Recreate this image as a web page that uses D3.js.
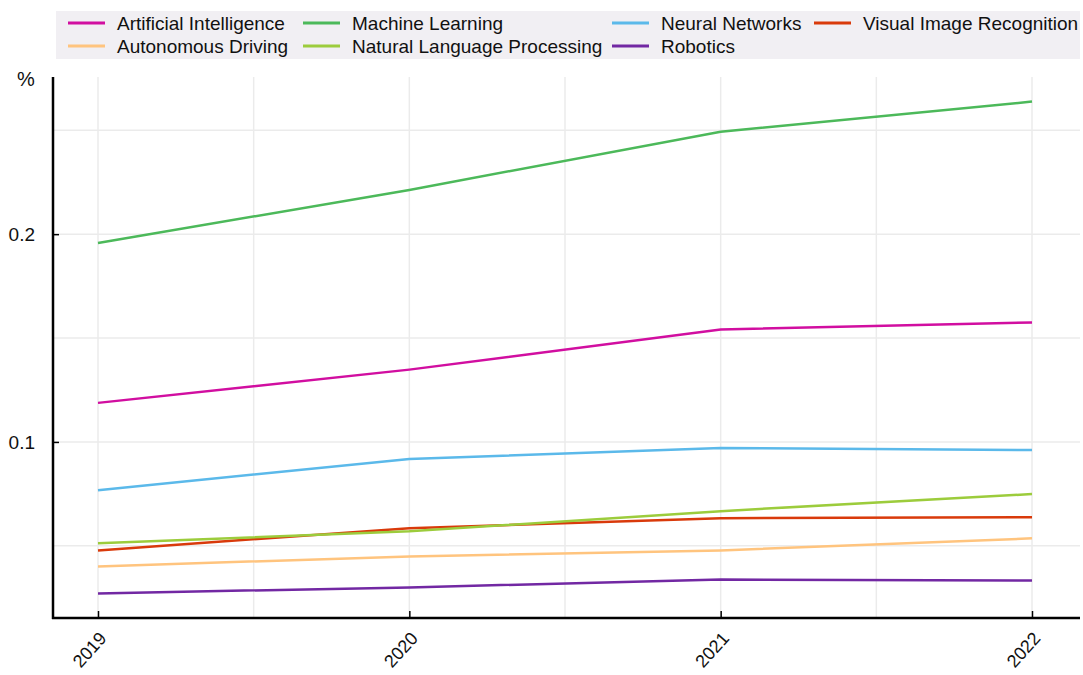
<!DOCTYPE html>
<html><head><meta charset="utf-8">
<script src="https://cdn.jsdelivr.net/npm/d3@7"></script>
<style>body{margin:0;background:#fff;}svg{display:block;font-family:"Liberation Sans",Arial,sans-serif;}</style>
</head><body><svg id="c" width="1083" height="675"></svg>
<script>
const years = ["2019","2020","2021","2022"];
const seriesNames = ["Artificial Intelligence","Machine Learning","Neural Networks","Visual Image Recognition","Autonomous Driving","Natural Language Processing","Robotics"];
const seriesColors = ["#d10ea0","#4cb95a","#5bb9ea","#d93a0b","#ffc47e","#9ccc3c","#7228a3"];
const aiValues = [0.1188,0.1348,0.1541,0.1575];
const mlValues = [0.1957,0.2213,0.2493,0.2638];
const nnValues = [0.0768,0.0918,0.0971,0.0961];
const virValues = [0.0478,0.0585,0.0633,0.0638];
const adValues = [0.0401,0.0449,0.0478,0.0536];
const nlpValues = [0.0512,0.0570,0.0667,0.0749];
const roboticsValues = [0.0271,0.0300,0.0338,0.0333];
const yTickValues = [0.1,0.2];
const yGridValues = [0.05,0.1,0.15,0.2,0.25];
const yLabel = "%";

const allValues = [aiValues,mlValues,nnValues,virValues,adValues,nlpValues,roboticsValues];
const series = seriesNames.map((n,i)=>({name:n,color:seriesColors[i],values:allValues[i]}));

const svg = d3.select("#c");
const pL=53, pR=1080, pT=77, pB=618;
const x = d3.scaleLinear().domain([0,3]).range([98,1032]);
const flat = allValues.flat();
const mn = d3.min(flat), mx = d3.max(flat), pad=(mx-mn)*0.05;
const y = d3.scaleLinear().domain([mn-pad,mx+pad]).range([pB,pT]);

// grid
const g = svg.append("g");
g.selectAll(".vg").data(d3.range(0,3.01,0.5)).join("line")
 .attr("x1",d=>x(d)).attr("x2",d=>x(d)).attr("y1",pT).attr("y2",pB)
 .attr("stroke","#ebebeb").attr("stroke-width",1.5);
g.selectAll(".hg").data(yGridValues).join("line")
 .attr("x1",pL).attr("x2",pR).attr("y1",d=>y(d)).attr("y2",d=>y(d))
 .attr("stroke","#ebebeb").attr("stroke-width",1.5);

// lines
const line = d3.line().x((d,i)=>x(i)).y(d=>y(d));
svg.append("g").selectAll("path").data(series).join("path")
 .attr("d",d=>line(d.values)).attr("fill","none")
 .attr("stroke",d=>d.color).attr("stroke-width",2.5);

// axes
const yAxis = d3.axisLeft(y).tickValues(yTickValues).tickSize(-6).tickFormat(d3.format(".1f"));
const ya = svg.append("g").attr("transform",`translate(${pL},0)`).call(yAxis);
ya.select(".domain").remove();
ya.selectAll(".tick line").attr("stroke","#000").attr("stroke-width",1.5);
ya.selectAll("text").attr("font-size",19).attr("fill","#111").attr("x",-18).attr("dy","0.35em");
svg.append("line").attr("x1",pL).attr("x2",pL).attr("y1",pT).attr("y2",pB+1).attr("stroke","#000").attr("stroke-width",2.5);

const xAxis = d3.axisBottom(x).tickValues([0,1,2,3]).tickSize(-7).tickFormat(i=>years[i]);
const xa = svg.append("g").attr("transform",`translate(0,${pB})`).call(xAxis);
xa.select(".domain").remove();
xa.selectAll(".tick line").attr("stroke","#000").attr("stroke-width",1.5);
xa.selectAll("text").attr("font-size",18).attr("fill","#111")
 .attr("text-anchor","end").attr("dy",0).attr("y",0)
 .attr("transform","translate(9,21) rotate(-48)");
svg.append("line").attr("x1",pL-1).attr("x2",pR).attr("y1",pB).attr("y2",pB).attr("stroke","#000").attr("stroke-width",2.5);

svg.append("text").attr("x",26).attr("y",86).attr("font-size",20).attr("text-anchor","middle").attr("fill","#111").text(yLabel);

// legend
svg.append("rect").attr("x",56).attr("y",11).attr("width",1024).attr("height",48).attr("fill","#f1eff3");
const legendOrder = [0,1,2,3,4,5,6];
const colX = [68,303,612,814];
const legendPos = [[0,0],[1,0],[2,0],[3,0],[0,1],[1,1],[2,1]];
const lg = svg.append("g").selectAll("g").data(legendOrder).join("g")
 .attr("transform",(d,i)=>`translate(${colX[legendPos[i][0]]},${23+legendPos[i][1]*23})`);
lg.append("line").attr("x1",0).attr("x2",37).attr("stroke",d=>series[d].color).attr("stroke-width",3);
lg.append("text").attr("x",49).attr("y",7).attr("font-size",19).attr("fill","#111").text(d=>series[d].name);
</script></body></html>
